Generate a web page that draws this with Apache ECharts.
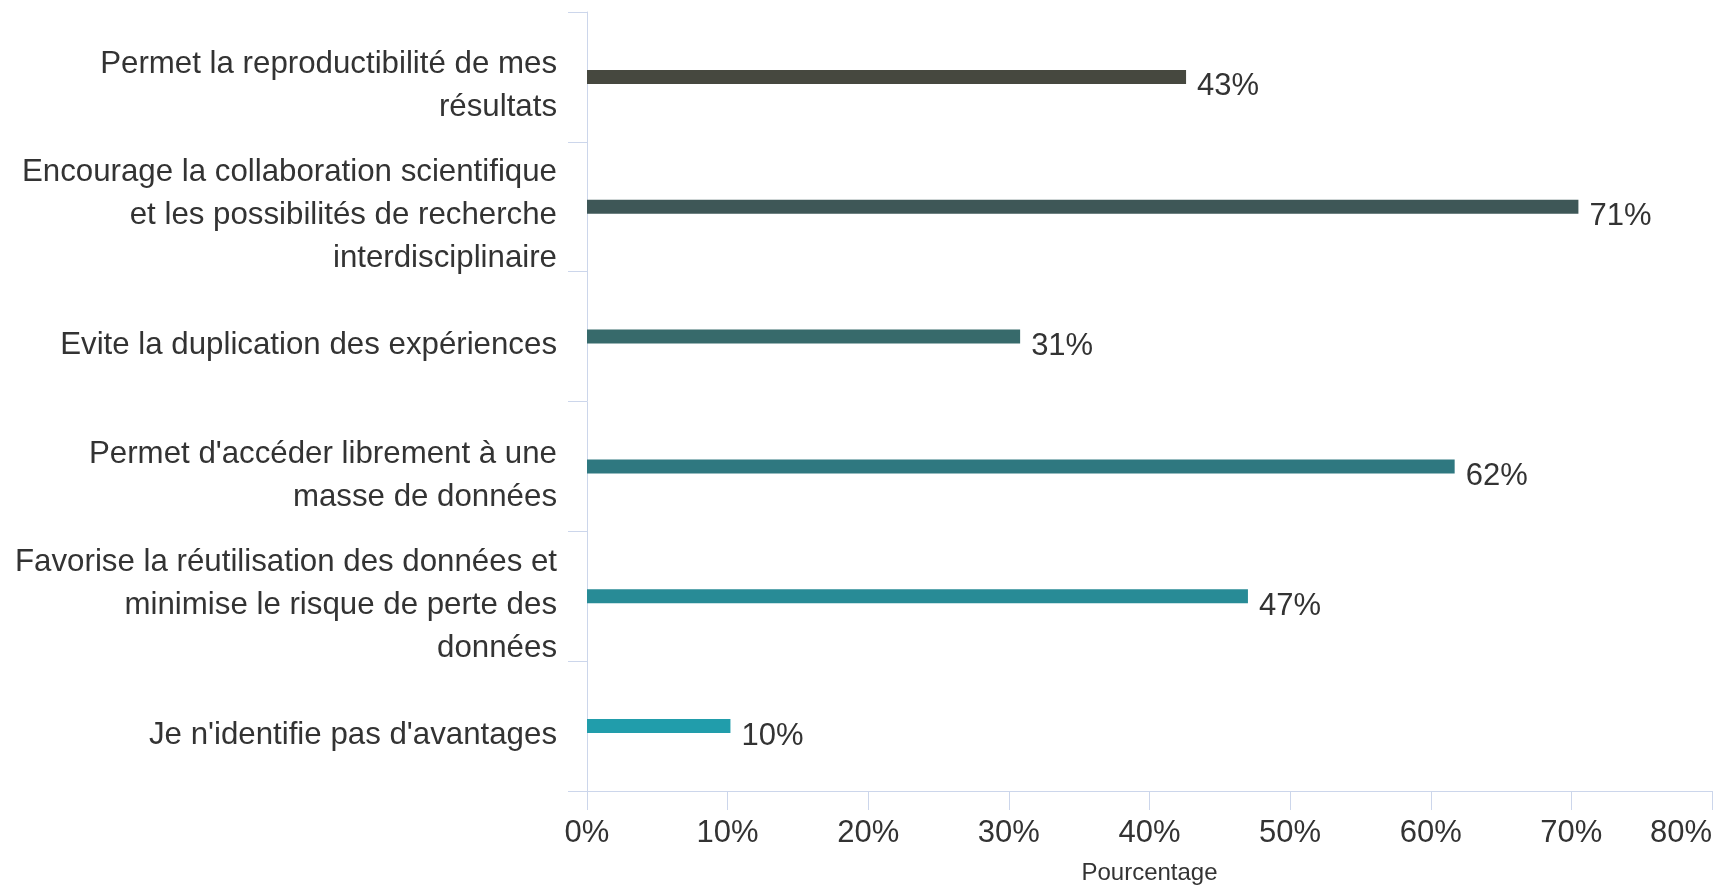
<!DOCTYPE html>
<html>
<head>
<meta charset="utf-8">
<script src="https://cdn.jsdelivr.net/npm/echarts@6/dist/echarts.min.js"></script>
<style>
html,body{margin:0;padding:0;background:#fff;}
#chart{width:1719px;height:885px;}
</style>
</head>
<body>
<div id="chart"></div>
<script>
var categories = [
  "Permet la reproductibilité de mes\nrésultats",
  "Encourage la collaboration scientifique\net les possibilités de recherche\ninterdisciplinaire",
  "Evite la duplication des expériences",
  "Permet d'accéder librement à une\nmasse de données",
  "Favorise la réutilisation des données et\nminimise le risque de perte des\ndonnées",
  "Je n'identifie pas d'avantages"
];
var values = [42.6, 70.5, 30.8, 61.7, 47.0, 10.2];
var valueLabels = ["43%", "71%", "31%", "62%", "47%", "10%"];
var barColors = ["#46483f", "#3e5757", "#376a6b", "#2f7880", "#288b96", "#219dab"];
var xTicks = { min: 0, max: 80, interval: 10 };
var xAxisTitle = "Pourcentage";

var chart = echarts.init(document.getElementById('chart'), null, {renderer: 'canvas'});
var font = "'Liberation Sans', Arial, sans-serif";
var axisColor = '#ccd6eb';
var textColor = '#333333';

chart.setOption({
  animation: false,
  backgroundColor: '#ffffff',
  grid: { left: 587, right: 7, top: 12, bottom: 94, containLabel: false, outerBoundsMode: 'none' },
  xAxis: {
    type: 'value',
    min: xTicks.min, max: xTicks.max, interval: xTicks.interval,
    name: xAxisTitle,
    nameLocation: 'middle',
    nameGap: 70,
    nameTextStyle: { fontFamily: font, fontSize: 24, color: textColor },
    axisLine: { show: true, lineStyle: { color: axisColor, width: 1 } },
    axisTick: { show: true, length: 19, lineStyle: { color: axisColor } },
    splitLine: { show: false },
    axisLabel: {
      formatter: '{value}%',
      fontFamily: font, fontSize: 31, color: textColor,
      margin: 27,
      alignMaxLabel: 'right'
    }
  },
  yAxis: {
    type: 'category',
    data: categories,
    inverse: true,
    axisLine: { show: true, lineStyle: { color: axisColor, width: 1 } },
    axisTick: { show: true, length: 19, lineStyle: { color: axisColor } },
    splitLine: { show: false },
    axisLabel: {
      fontFamily: font, fontSize: 31.25, color: textColor,
      lineHeight: 43,
      margin: 30,
      align: 'right',
      interval: 0,
      formatter: function (v) {
        return '{sp| }\n' + v.split('\n').map(function (s) { return '{t|' + s + '}'; }).join('\n');
      },
      rich: {
        sp: { fontSize: 1, lineHeight: 18, height: 18 },
        t: { fontFamily: font, fontSize: 31.25, color: textColor, lineHeight: 43, align: 'right' }
      }
    }
  },
  series: [{
    type: 'bar',
    barWidth: 14,
    data: values.map(function (v, i) {
      return { value: v, itemStyle: { color: barColors[i] } };
    }),
    label: {
      show: true,
      position: 'right',
      distance: 11,
      offset: [0, 10],
      fontFamily: font, fontSize: 31, color: textColor,
      formatter: function (p) { return valueLabels[p.dataIndex]; }
    }
  }]
});
</script>
</body>
</html>
